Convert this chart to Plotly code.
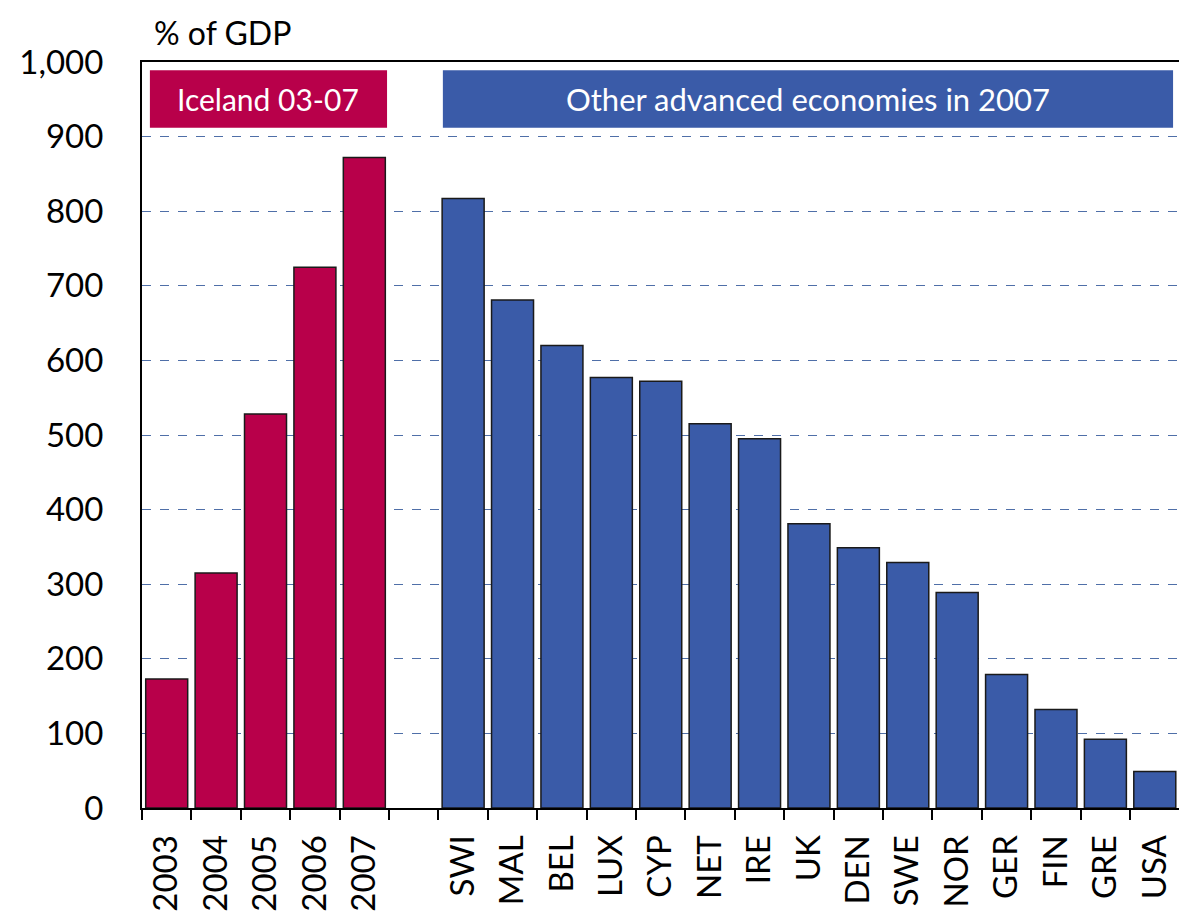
import plotly.graph_objects as go

iceland_years = ["2003", "2004", "2005", "2006", "2007"]
iceland_values = [173, 315, 528, 725, 872]

gap_category = [" "]

countries = ["SWI", "MAL", "BEL", "LUX", "CYP", "NET", "IRE", "UK", "DEN",
             "SWE", "NOR", "GER", "FIN", "GRE", "USA"]
country_values = [817, 681, 620, 577, 572, 515, 495, 381, 349, 329, 289, 179, 132, 92, 49]

y_ticks = [0, 100, 200, 300, 400, 500, 600, 700, 800, 900, 1000]

categories = iceland_years + gap_category + countries

RED = "#B8004A"
BLUE = "#3A5BA8"
FONT = "Lato"

fig = go.Figure()
fig.add_trace(go.Bar(x=iceland_years, y=iceland_values, marker=dict(color=RED, line=dict(color="#1a1a1a", width=1.5)),
                     width=0.85, showlegend=False))
fig.add_trace(go.Bar(x=countries, y=country_values, marker=dict(color=BLUE, line=dict(color="#1a1a1a", width=1.5)),
                     width=0.85, showlegend=False))

fig.update_layout(
    width=1179, height=912,
    margin=dict(l=142, r=0, t=62, b=100),
    plot_bgcolor="white", paper_bgcolor="white",
    barmode="overlay",
    font=dict(family=FONT, color="black"),
    xaxis=dict(type="category", categoryorder="array", categoryarray=categories,
               range=[-0.5, 20.49], tickson="boundaries", ticks="outside", ticklen=10,
               tickwidth=2, tickcolor="black", showline=True, linecolor="black", linewidth=2,
               mirror=True, tickangle=-90, tickfont=dict(size=33, family=FONT),
               ticklabelstandoff=12, showgrid=False),
    yaxis=dict(range=[0, 1000], tickvals=y_ticks, tickformat=",", showline=True,
               linecolor="black", linewidth=2, ticks="", tickfont=dict(size=33, family=FONT),
               ticklabelstandoff=30, showgrid=True, gridcolor="#4F6FA8", griddash="dash",
               gridwidth=1, zeroline=False),
)

fig.add_shape(type="rect", xref="x", yref="y", x0=-0.34, x1=4.46, y0=912, y1=989,
              fillcolor=RED, line=dict(width=0), layer="above")
fig.add_shape(type="rect", xref="x", yref="y", x0=5.59, x1=20.37, y0=912, y1=989,
              fillcolor=BLUE, line=dict(width=0), layer="above")
fig.add_annotation(x=2.06, y=950.5, xref="x", yref="y", text="Iceland 03-07", showarrow=False,
                   font=dict(size=30, color="white", family=FONT))
fig.add_annotation(x=12.98, y=950.5, xref="x", yref="y", text="Other advanced economies in 2007",
                   showarrow=False, font=dict(size=31, color="white", family=FONT))
fig.add_annotation(x=0.01, y=1.04, xref="paper", yref="paper", xanchor="left", yanchor="middle",
                   text="% of GDP", showarrow=False, font=dict(size=32, color="black", family=FONT))

fig.write_html("out.html", config={"displayModeBar": False},
               post_script="document.body.style.margin='0';document.body.style.overflow='hidden';")
